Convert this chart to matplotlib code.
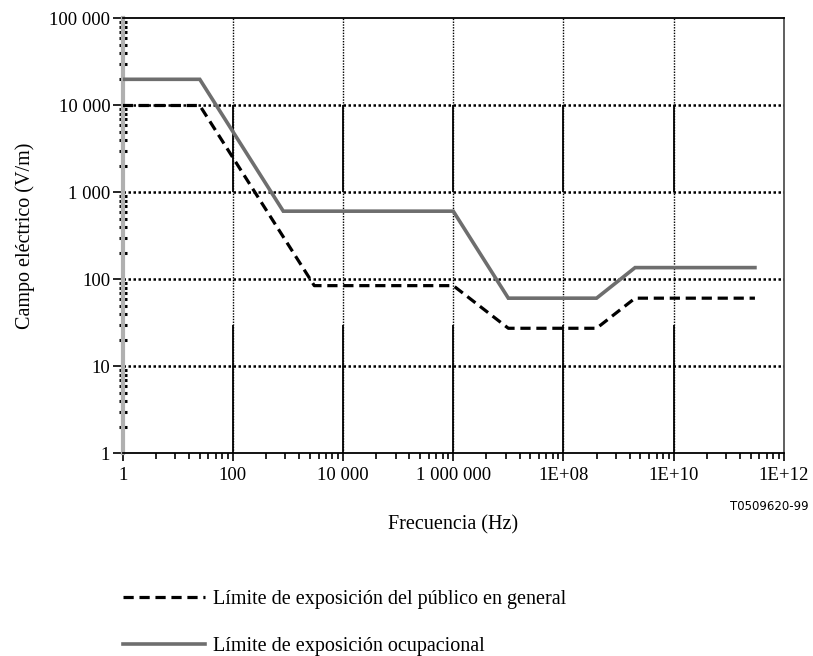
import matplotlib.pyplot as plt
from matplotlib.ticker import FixedLocator, NullFormatter
import numpy as np

# frequency (Hz) / field (V/m) break points
freq_public = [1, 25, 3000, 1e6, 1e7, 4e8, 2e9, 3e11]
field_public = [10000, 10000, 85, 85, 27.5, 27.5, 61, 61]

freq_occup = [1, 25, 820, 1e6, 1e7, 4e8, 2e9, 3e11]
field_occup = [20000, 20000, 610, 610, 61, 61, 137, 137]

x_ticks = [1, 1e2, 1e4, 1e6, 1e8, 1e10, 1e12]
x_labels = ['1', '100', '10 000', '1 000 000', '1E+08', '1E+10', '1E+12']
y_ticks = [1, 10, 100, 1000, 10000, 100000]
y_labels = ['1', '10', '100', '1 000', '10 000', '100 000']

grid_x = [1e2, 1e4, 1e6, 1e8, 1e10]
grid_y = [10, 100, 1000, 10000]

label_public = 'Límite de exposición del público en general'
label_occup = 'Límite de exposición ocupacional'

plt.rcParams['font.family'] = ['Liberation Serif', 'DejaVu Serif']

fig = plt.figure(figsize=(8.13, 6.56), dpi=100)
ax = fig.add_axes([0.151, 0.3087, 0.813, 0.6631])
ax.set_xscale('log')
ax.set_yscale('log')
ax.set_xlim(1, 1e12)
ax.set_ylim(1, 1e5)

# grid: dotted, with the odd solid stretches of the original
dot = (0, (1, 1))
ax.hlines(grid_y, 1, 1e12, colors='black', linestyles=[dot], lw=1.8, zorder=1)
ax.vlines(grid_x, 1, 1e5, colors='black', linestyles=[dot], lw=1.0, zorder=1)
ax.vlines(grid_x, 1000, 10000, colors='black', lw=1.3, zorder=1)
ax.vlines(grid_x, 1, 30, colors='black', lw=1.3, zorder=1)

ax.plot(freq_occup, field_occup, color='#6e6e6e', lw=2.6, solid_joinstyle='miter',
        label=label_occup, zorder=3)
ax.plot(freq_public, field_public, color='black', lw=2.3, dashes=(3.2, 1.8),
        label=label_public, zorder=4)

ax.xaxis.set_major_locator(FixedLocator(x_ticks))
ax.set_xticklabels(x_labels, fontsize=13.5)
minor_x = [m * m * 100.0 ** k for k in range(6) for m in range(2, 10)]
ax.xaxis.set_minor_locator(FixedLocator(minor_x))
ax.xaxis.set_minor_formatter(NullFormatter())

ax.yaxis.set_major_locator(FixedLocator(y_ticks))
ax.set_yticklabels(y_labels, fontsize=13.5)
minor_y = [m * 10.0 ** k for k in range(5) for m in range(2, 10)]
ax.yaxis.set_minor_locator(FixedLocator(minor_y))
ax.yaxis.set_minor_formatter(NullFormatter())

ax.tick_params(axis='x', which='major', direction='out', length=6, width=1.2, pad=4)
ax.tick_params(axis='x', which='minor', direction='out', length=4, width=1.2)
ax.tick_params(axis='y', which='major', direction='out', length=7, width=1.2, pad=2)
ax.tick_params(axis='y', which='minor', direction='inout', length=6, width=2.2)

ax.spines['left'].set_color('#b0b0b0')
ax.spines['left'].set_linewidth(3)
ax.spines['bottom'].set_linewidth(1.3)
ax.spines['top'].set_linewidth(1.3)
ax.spines['right'].set_color('#444444')
ax.spines['right'].set_linewidth(1.2)

ax.set_xlabel('Frecuencia (Hz)', fontsize=14.5, labelpad=22)
ax.set_ylabel('Campo eléctrico (V/m)', fontsize=14.5, labelpad=10)

fig.text(0.995, 0.228, 'T0509620-99', fontsize=8.5, family='DejaVu Sans',
         ha='right', va='center')

handles, labels = ax.get_legend_handles_labels()
fig.legend(handles[::-1], labels[::-1], loc='upper left',
           bbox_to_anchor=(0.151, 0.10), bbox_transform=fig.transFigure,
           frameon=False, fontsize=14.5, handlelength=4.1, handletextpad=0.4,
           labelspacing=1.35, borderpad=0, borderaxespad=0)

fig.savefig('out.png', dpi=100)
